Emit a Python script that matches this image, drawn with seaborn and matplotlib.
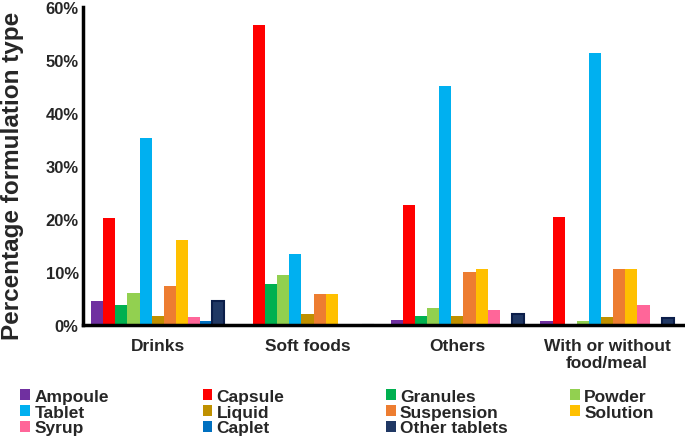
import matplotlib.pyplot as plt
import matplotlib.ticker as mticker
import pandas as pd
import seaborn as sns

CATEGORIES = ["Drinks", "Soft foods", "Others", "With or without\nfood/meal"]
FORMULATIONS = [
    "Ampoule", "Capsule", "Granules", "Powder", "Tablet", "Liquid",
    "Suspension", "Solution", "Syrup", "Caplet", "Other tablets",
]
COLORS = [
    "#7030A0", "#FF0000", "#00B050", "#92D050", "#00B0F0", "#BF9000",
    "#ED7D31", "#FFC000", "#FF6699", "#0070C0", "#203864",
]

# percentage per formulation, one list per category
DRINKS = [4.5, 20.2, 3.8, 6.0, 35.3, 1.7, 7.3, 16.0, 1.6, 0.8, 4.5]
SOFT_FOODS = [0.0, 56.6, 7.7, 9.5, 13.4, 2.1, 5.8, 5.8, 0.0, 0.0, 0.0]
OTHERS = [1.0, 22.6, 1.8, 3.3, 45.0, 1.8, 10.0, 10.6, 2.8, 0.0, 2.1]
WITH_WITHOUT = [0.7, 20.4, 0.0, 0.7, 51.3, 1.5, 10.6, 10.6, 3.8, 0.0, 1.4]

rows = []
for cat, vals in zip(CATEGORIES, [DRINKS, SOFT_FOODS, OTHERS, WITH_WITHOUT]):
    for form, v in zip(FORMULATIONS, vals):
        rows.append({"category": cat, "formulation": form, "value": v})
df = pd.DataFrame(rows)

sns.set_style("white")
plt.rcParams["font.family"] = ["Liberation Sans", "DejaVu Sans"]
plt.rcParams["font.weight"] = "bold"

fig = plt.figure(figsize=(6.85, 4.39), dpi=100)
ax = fig.add_axes([0.121, 0.257, 0.879, 0.725])

sns.barplot(
    data=df, x="category", y="value", hue="formulation",
    order=CATEGORIES, hue_order=FORMULATIONS,
    palette=dict(zip(FORMULATIONS, COLORS)),
    width=0.89, ax=ax, linewidth=0, saturation=1,
)

# dark outline on the "other tablets" bars
for bar in ax.containers[-1]:
    bar.set_edgecolor("#0B1E4A")
    bar.set_linewidth(1.5)

ax.set_xlim(-0.5, 3.52)
ax.set_ylim(0, 60)
ax.yaxis.set_major_locator(mticker.MultipleLocator(10))
ax.yaxis.set_major_formatter(mticker.FuncFormatter(lambda v, _: f"{v:.0f}%"))
ax.set_xlabel("")
ax.set_ylabel("Percentage formulation type", fontsize=17.5, fontweight="bold")
ax.yaxis.set_label_coords(-0.097, 0.472)
ax.tick_params(axis="y", labelsize=12, length=0, pad=3)
ax.tick_params(axis="x", labelsize=12.5, length=0, pad=9)
for lab in ax.get_xticklabels() + ax.get_yticklabels():
    lab.set_fontweight("bold")

sns.despine(ax=ax)
for side in ["left", "bottom"]:
    ax.spines[side].set_linewidth(2.5)
    ax.spines[side].set_color("black")

handles, labels = ax.get_legend_handles_labels()
ax.get_legend().remove()
# four evenly spaced legend columns, filled row by row
col_x = [0.012, 0.278, 0.546, 0.815]
for c, x in enumerate(col_x):
    idx = list(range(c, len(handles), 4))
    fig.legend(
        [handles[i] for i in idx], [labels[i] for i in idx],
        loc="upper left", bbox_to_anchor=(x, 0.140),
        frameon=False, handlelength=0.55, handleheight=0.55,
        handletextpad=0.25, labelspacing=0.05, borderpad=0.2,
        prop={"weight": "bold", "size": 12.5},
    )

fig.savefig("out.png", dpi=100)
